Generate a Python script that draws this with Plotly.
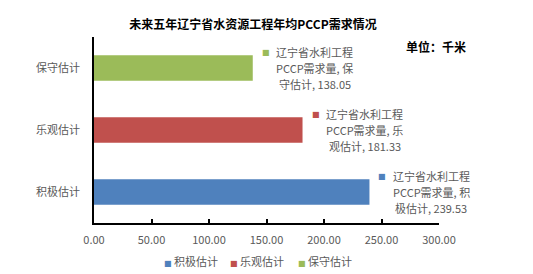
import plotly.graph_objects as go

categories = ["积极估计", "乐观估计", "保守估计"]
values = [239.53, 181.33, 138.05]
colors = ["#4F81BD", "#C0504D", "#9BBB59"]
x_ticks = [0, 50, 100, 150, 200, 250, 300]
title = "未来五年辽宁省水资源工程年均PCCP需求情况"
unit_text = "单位：千米"
label_prefix = "辽宁省水利工程"
label_measure = "PCCP需求量"

FONT = "Noto Sans CJK SC"
GRAY = "#595959"

fig = go.Figure()
for cat, val, col in zip(categories, values, colors):
    fig.add_trace(go.Bar(
        y=[cat], x=[val], orientation="h", name=cat,
        marker=dict(color=col, line=dict(width=0)),
        showlegend=False,
    ))

annotations = []
for cat, val, col in zip(categories, values, colors):
    lines = [label_prefix, f"{label_measure}, {cat[0]}", f"{cat[1:]}, {val:.2f}"]
    for i, ln in enumerate(lines):
        annotations.append(dict(
            x=val, y=cat, xref="x", yref="y", text=ln, showarrow=False,
            xanchor="center", yanchor="middle", xshift=62, yshift=16 - 16 * i,
            font=dict(family=FONT, size=11, color=GRAY),
        ))
    annotations.append(dict(
        x=val, y=cat, xref="x", yref="y", text="■", showarrow=False,
        xanchor="center", yanchor="middle", xshift=13, yshift=16,
        font=dict(family="DejaVu Sans", size=8, color=col),
    ))

# legend drawn as annotations (compact Excel-style)
leg_x_px = [162, 228, 296]
plot_l, plot_w = 94, 345
for cat, col, px in zip(categories, colors, leg_x_px):
    annotations.append(dict(
        x=(px - plot_l) / plot_w, y=-0.205, xref="paper", yref="paper",
        text=f"<span style='font-family:DejaVu Sans;font-size:8px;color:{col}'>■</span> {cat}",
        showarrow=False, xanchor="left", yanchor="middle",
        font=dict(family=FONT, size=11, color=GRAY),
    ))

annotations.append(dict(
    x=468, y=47, xref="paper", yref="paper", text=f"<b>{unit_text}</b>",
    showarrow=False, font=dict(family=FONT, size=12, color="#000000"),
))
annotations[-1].update(x=(468 - plot_l) / plot_w, y=(223 - 47) / 186, xanchor="right", yanchor="middle")

fig.update_layout(
    width=533, height=274,
    margin=dict(l=94, r=94, t=37, b=51),
    paper_bgcolor="white", plot_bgcolor="white",
    barmode="overlay", bargap=0.59,
    title=dict(text=f"<b>{title}</b>", x=253 / 533, xanchor="center",
               y=1 - 25 / 274, yanchor="middle",
               font=dict(family=FONT, size=12, color="#000000")),
    xaxis=dict(range=[0, 300], tickvals=x_ticks,
               ticktext=[f"{v:.2f}" for v in x_ticks],
               showgrid=False, zeroline=False,
               showline=True, linecolor="#000000", linewidth=1.5,
               ticks="inside", ticklen=4, tickcolor="#000000", tickwidth=1.5,
               ticklabelstandoff=6,
               tickfont=dict(family=FONT, size=11, color=GRAY), fixedrange=True),
    yaxis=dict(categoryorder="array", categoryarray=categories,
               showgrid=False, zeroline=False,
               showline=True, linecolor="#000000", linewidth=1.5,
               ticks="", ticklabelstandoff=10,
               tickfont=dict(family=FONT, size=11, color=GRAY), fixedrange=True),
    annotations=annotations,
)

fig.write_html("out.html")
